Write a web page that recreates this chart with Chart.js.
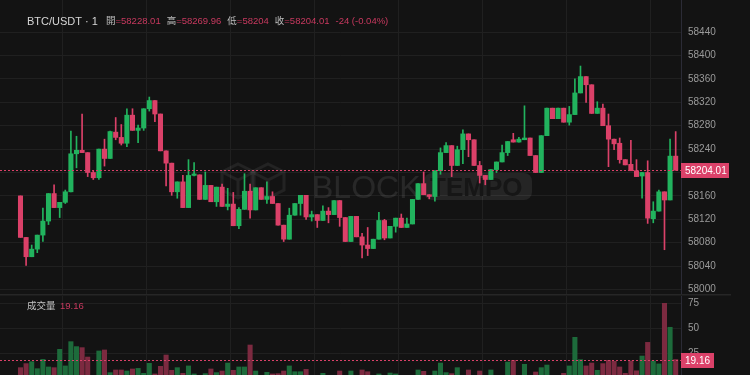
<!DOCTYPE html>
<html>
<head>
<meta charset="utf-8">
<script src="https://cdn.jsdelivr.net/npm/chart.js@4.4.1/dist/chart.umd.min.js"></script>
<style>
  html, body { margin: 0; padding: 0; background: #131313; }
  #wrap { position: relative; width: 750px; height: 375px; overflow: hidden; }
  #priceChart { position: absolute; left: 0; top: 0; }
  #volChart { position: absolute; left: 0; top: 294px; }
</style>
</head>
<body>
<div id="wrap">
  <canvas id="priceChart" width="750" height="294"></canvas>
  <canvas id="volChart" width="750" height="81"></canvas>
</div>
<script>
// 1 minute candles, BTC/USDT
const opens = [58160,58089,58056,58069,58093,58117,58164,58140,58149,58167,
  58232,58238,58234,58200,58191,58240,58224,58269,58260,58250,
  58298,58272,58276,58309,58323,58300,58237,58216,58167,58184,
  58140,58195,58196,58154,58178,58150,58175,58142,58146,58109,
  58137,58168,58136,58174,58154,58159,58147,58110,58086,58127,
  58147,58161,58124,58128,58118,58134,58128,58152,58123,58082,
  58125,58090,58076,58070,58086,58118,58088,58108,58122,58106,
  58112,58154,58181,58162,58159,58203,58234,58246,58212,58239,
  58266,58256,58212,58195,58188,58205,58218,58234,58256,58252,
  58256,58259,58229,58200,58263,58310,58292,58310,58286,58299,
  58336,58364,58350,58301,58310,58280,58257,58250,58222,58214,
  58203,58194,58200,58121,58134,58167,58153,58228.01];
const highs = [58160,58089,58076,58093,58139,58164,58179,58149,58170,58271,
  58262,58300,58234,58203,58240,58257,58271,58294,58282,58309,
  58309,58281,58309,58329,58323,58300,58237,58216,58184,58195,
  58222,58217,58196,58201,58178,58175,58180,58173,58166,58140,
  58198,58180,58174,58174,58184,58167,58147,58110,58139,58147,
  58161,58161,58134,58128,58143,58140,58152,58152,58123,58125,
  58125,58096,58106,58086,58132,58120,58108,58122,58129,58122,
  58154,58181,58201,58162,58203,58242,58251,58246,58245,58273,
  58266,58256,58219,58195,58205,58218,58247,58253,58267,58260,
  58314,58259,58229,58263,58310,58310,58310,58310,58313,58360,
  58382,58364,58350,58321,58317,58300,58257,58259,58222,58255,
  58222,58200,58220,58150,58170,58167,58257,58269.96];
const lows = [58089,58041,58056,58063,58082,58111,58140,58123,58147,58167,
  58208,58234,58193,58188,58188,58211,58224,58256,58247,58244,
  58272,58251,58272,58305,58287,58237,58177,58161,58156,58140,
  58140,58194,58154,58154,58150,58142,58142,58136,58109,58104,
  58137,58122,58136,58154,58147,58147,58110,58082,58086,58127,
  58127,58120,58117,58106,58118,58114,58128,58108,58082,58082,
  58090,58054,58058,58070,58086,58085,58088,58098,58106,58106,
  58112,58154,58162,58155,58151,58197,58234,58193,58212,58215,
  58227,58212,58182,58179,58188,58200,58218,58229,58252,58252,
  58256,58229,58200,58200,58263,58292,58292,58286,58281,58299,
  58336,58320,58301,58301,58280,58210,58239,58216,58213,58203,
  58193,58156,58113,58114,58134,58068,58153,58204];
const closes = [58089,58056,58069,58093,58117,58164,58140,58149,58167,58232,
  58238,58234,58200,58191,58240,58224,58270,58260,58250,58298,
  58272,58276,58309,58323,58300,58237,58216,58167,58184,58140,
  58195,58196,58154,58178,58150,58175,58142,58146,58109,58137,
  58168,58136,58174,58154,58159,58147,58110,58086,58127,58147,
  58161,58124,58128,58118,58134,58128,58152,58123,58082,58125,
  58090,58076,58070,58086,58118,58088,58108,58122,58106,58112,
  58154,58181,58162,58159,58203,58234,58246,58212,58239,58266,
  58256,58212,58195,58188,58205,58218,58234,58253,58252,58257,
  58259,58229,58200,58263,58310,58292,58310,58286,58299,58336,
  58364,58350,58301,58310,58280,58257,58249,58222,58213,58203,
  58193,58200,58122,58134,58167,58153,58228,58204.01];
const volumes = [11.1,15.1,17,10.1,19.3,11.8,11.1,29.2,12.8,36.8,
  31.9,30.9,21.6,3,27.6,28.6,6.2,8.8,8.8,7.8,
  9.8,10.4,5.5,15.4,4.9,12.4,23.6,8.5,11.1,5.5,
  12.8,4.9,3,5.2,9.8,6.2,7.8,15.7,8.5,11.8,
  11.8,33.5,7.8,3,6.5,4.9,5.2,7.8,12.8,7.1,
  7.1,9.4,3,3,5.5,3,3,7.8,3,7.8,
  3,8.8,7.1,3,4.9,3,5.8,4.9,3,3,
  3,8.8,7.5,3,7.8,15.7,6.2,5.2,11.1,3,
  8.8,3,7.8,3,8.8,3,3,16.7,18.3,3,
  14.4,3,6.8,11.1,13.7,3,3,5.5,12.8,41.1,
  19.0,12.8,15.7,8.5,15.1,18.3,17.4,11.8,5.5,17.7,
  8.0,22.6,36.1,17.7,14.8,74.7,51,19.16];

const priceTicks = [58000,58040,58080,58120,58160,58200,58240,58280,58320,58360,58400,58440];
const volTicks = [25, 50, 75];
const timeTicks = [1, 16, 31, 46, 61, 76, 91, 106];

const lastPrice = 58204.01;
const lastVol = 19.16;

const RED = '#db4169';
const GREEN = '#22b35e';
const RED_VOL = '#7c2a40';
const GREEN_VOL = '#1d6b3b';
const GRID = '#202020';
const AXIS = '#2b2b36';
const FONT = '"Liberation Sans", "Noto Sans CJK TC", sans-serif';

const idx = opens.map((o, i) => i + 1);
const isUp = opens.map((o, i) => closes[i] >= o);

// x scale shared by both panels: 5.6px per candle, first candle at x=20.5
const X_MIN = -2.66, X_MAX = 118.95;

function xScale() {
  return {
    type: 'linear', min: X_MIN, max: X_MAX, offset: false,
    afterBuildTicks: (s) => { s.ticks = timeTicks.map(v => ({ value: v })); },
    afterFit: (s) => { s.height = 0; s.paddingLeft = 0; s.paddingRight = 0; },
    grid: { color: GRID, drawTicks: false },
    border: { display: false },
    ticks: { display: false }
  };
}

function yScale(min, max, ticks) {
  return {
    position: 'right',
    min: min, max: max,
    afterBuildTicks: (s) => { s.ticks = ticks.map(v => ({ value: v })); },
    // fixed axis width, no extra padding so the plot fills the canvas height
    afterFit: (s) => { s.width = 69; s.paddingTop = 0; s.paddingBottom = 0; },
    grid: { color: GRID, drawTicks: false },
    border: { color: AXIS },
    ticks: { color: '#9a9a9a', padding: 7, font: { size: 10, family: FONT }, callback: v => String(v) }
  };
}

// dotted last value line + red tag on the axis
function lastValuePlugin(value, text, tagW) {
  return {
    id: 'lastValue',
    afterDraw(chart) {
      const ctx = chart.ctx, a = chart.chartArea;
      const y = Math.round(chart.scales.y.getPixelForValue(value)) + 0.5;
      ctx.save();
      ctx.strokeStyle = RED;
      ctx.lineWidth = 1;
      ctx.setLineDash([2, 2]);
      ctx.beginPath();
      ctx.moveTo(a.left, y);
      ctx.lineTo(a.right, y);
      ctx.stroke();
      ctx.setLineDash([]);
      ctx.fillStyle = RED;
      ctx.fillRect(a.right, y - 7.5, tagW, 15);
      ctx.fillStyle = '#ffffff';
      ctx.font = '10px ' + FONT;
      ctx.textBaseline = 'middle';
      ctx.fillText(text, a.right + 4, y + 0.5);
      ctx.restore();
    }
  };
}

const watermarkPlugin = {
  id: 'watermark',
  beforeDatasetsDraw(chart) {
    const ctx = chart.ctx;
    ctx.save();
    // cube logo outline
    ctx.strokeStyle = 'rgba(255,255,255,0.07)';
    ctx.lineWidth = 3;
    [[238, 180], [268, 180]].forEach(([cx, cy]) => {
      ctx.beginPath();
      ctx.moveTo(cx, cy - 16);
      ctx.lineTo(cx + 16, cy - 8);
      ctx.lineTo(cx + 16, cy + 10);
      ctx.lineTo(cx, cy + 18);
      ctx.lineTo(cx - 16, cy + 10);
      ctx.lineTo(cx - 16, cy - 8);
      ctx.closePath();
      ctx.moveTo(cx - 16, cy - 8);
      ctx.lineTo(cx, cy);
      ctx.lineTo(cx + 16, cy - 8);
      ctx.moveTo(cx, cy);
      ctx.lineTo(cx, cy + 18);
      ctx.stroke();
    });
    ctx.font = '32px ' + FONT;
    ctx.textBaseline = 'alphabetic';
    ctx.fillStyle = 'rgba(255,255,255,0.09)';
    ctx.fillText('BLOCK', 312, 198);
    ctx.fillStyle = 'rgba(255,255,255,0.08)';
    ctx.beginPath();
    ctx.roundRect(424, 173, 108, 27, 8);
    ctx.fill();
    ctx.font = 'bold 26px ' + FONT;
    ctx.fillStyle = '#161616';
    ctx.fillText('TEMPO', 430, 196);
    ctx.restore();
  }
};

const headerPlugin = {
  id: 'header',
  afterDraw(chart) {
    const ctx = chart.ctx;
    ctx.save();
    ctx.textBaseline = 'alphabetic';
    ctx.font = '11px ' + FONT;
    ctx.fillStyle = '#d6d6d6';
    ctx.fillText('BTC/USDT · 1', 27, 25);
    const parts = [['開', '=58228.01'], ['高', '=58269.96'], ['低', '=58204'], ['收', '=58204.01'], ['', '-24 (-0.04%)']];
    ctx.font = '9.5px ' + FONT;
    let x = 106;
    parts.forEach(([k, v]) => {
      ctx.fillStyle = '#bdbdbd';
      ctx.fillText(k, x, 24);
      x += ctx.measureText(k).width;
      ctx.fillStyle = '#c8395f';
      ctx.fillText(v, x, 24);
      x += ctx.measureText(v).width + 6;
    });
    ctx.restore();
  }
};

new Chart(document.getElementById('priceChart'), {
  type: 'bar',
  data: {
    datasets: [
      {
        label: 'wick',
        data: idx.map((x, i) => ({ x: x, y: [lows[i], highs[i]] })),
        backgroundColor: isUp.map(u => u ? GREEN : RED),
        barThickness: 1,
        grouped: false,
        minBarLength: 1
      },
      {
        label: 'body',
        data: idx.map((x, i) => ({ x: x, y: [Math.min(opens[i], closes[i]), Math.max(opens[i], closes[i])] })),
        backgroundColor: isUp.map(u => u ? GREEN : RED),
        barThickness: 4.4,
        grouped: false,
        minBarLength: 1.5
      }
    ]
  },
  options: {
    responsive: false,
    animation: false,
    devicePixelRatio: 1,
    layout: { padding: 0 },
    plugins: { legend: { display: false }, tooltip: { enabled: false } },
    scales: {
      x: xScale(),
      y: yScale(57992.3, 58494.9, priceTicks)
    }
  },
  plugins: [watermarkPlugin, lastValuePlugin(lastPrice, '58204.01', 48), headerPlugin]
});

const volHeader = {
  id: 'volHeader',
  afterDraw(chart) {
    const ctx = chart.ctx;
    ctx.save();
    ctx.fillStyle = '#262626';
    ctx.fillRect(0, 0, 731, 1);
    ctx.fillStyle = '#1c1c1c';
    ctx.fillRect(0, 1, 731, 1);
    ctx.font = '9.5px ' + FONT;
    ctx.textBaseline = 'alphabetic';
    ctx.fillStyle = '#c4c4c4';
    ctx.fillText('成交量', 27, 15);
    ctx.fillStyle = '#c8395f';
    ctx.fillText('19.16', 60, 15);
    ctx.restore();
  }
};

new Chart(document.getElementById('volChart'), {
  type: 'bar',
  data: {
    datasets: [{
      label: '成交量',
      data: idx.map((x, i) => ({ x: x, y: volumes[i] })),
      backgroundColor: isUp.map(u => u ? GREEN_VOL : RED_VOL),
      barThickness: 4.4,
      base: 0
    }]
  },
  options: {
    responsive: false,
    animation: false,
    devicePixelRatio: 1,
    layout: { padding: 0 },
    plugins: { legend: { display: false }, tooltip: { enabled: false } },
    scales: {
      x: xScale(),
      y: yScale(3.85, 83.9, volTicks)
    }
  },
  plugins: [lastValuePlugin(lastVol, '19.16', 33), volHeader]
});
</script>
</body>
</html>
